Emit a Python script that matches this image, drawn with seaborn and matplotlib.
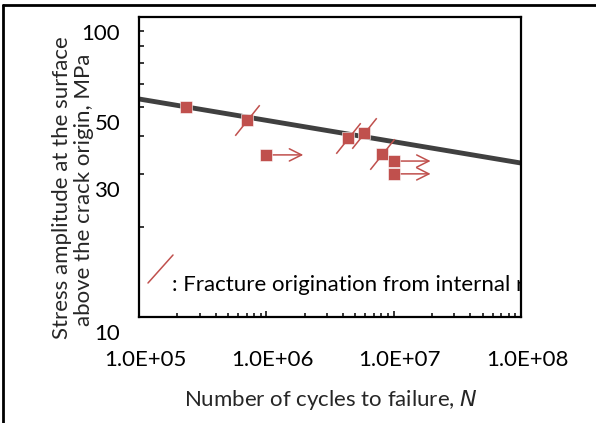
import matplotlib
matplotlib.use("Agg")
import numpy as np
import pandas as pd
import matplotlib.pyplot as plt
import seaborn as sns
from matplotlib.path import Path
from matplotlib.lines import Line2D
from matplotlib.transforms import ScaledTranslation
from matplotlib.ticker import FixedLocator, FixedFormatter, LogLocator, NullFormatter

# ---- data ----
N_fail = [2.35e5, 7.1e5, 4.35e6, 5.9e6, 8.1e6]
S_fail = [50.1, 45.3, 39.5, 41.1, 34.9]
internal_origin = [False, True, True, True, True]
N_runout = [1.0e6, 1.0e7, 1.0e7]
S_runout = [34.7, 33.1, 30.0]
fit_N = [1.0e5, 1.0e8]
fit_S = [53.3, 32.6]
x_ticks = [1e5, 1e6, 1e7, 1e8]
x_tick_labels = ["1.0E+05", "1.0E+06", "1.0E+07", "1.0E+08"]
y_ticks = [10, 20, 30, 40, 50, 60, 70, 80, 90, 100]
y_tick_labels = ["10", "", "30", "", "50", "", "", "", "", "100"]
x_label = "Number of cycles to failure, "
y_label_1 = "Stress amplitude at the surface"
y_label_2 = "above the crack origin, MPa"
legend_text = ": Fracture origination from internal region"

RED = "#C0504D"
DARK = "#404040"

sns.set_style("ticks")
plt.rcParams["font.family"] = ["Lato", "DejaVu Sans"]

W, H, DPI = 596, 423, 100
fig = plt.figure(figsize=(W / DPI, H / DPI), dpi=DPI)
L, R, T, B = 139, 521, 17, 317
ax = fig.add_axes([L / W, 1 - B / H, (R - L) / W, (B - T) / H])
ax.set_xscale("log")
ax.set_yscale("log")
ax.set_xlim(1e5, 1e8)
ax.set_ylim(10, 100)

df_fit = pd.DataFrame({"N": fit_N, "S": fit_S})
df_fail = pd.DataFrame({"N": N_fail, "S": S_fail, "internal": internal_origin})
df_run = pd.DataFrame({"N": N_runout, "S": S_runout})

sns.lineplot(data=df_fit, x="N", y="S", ax=ax, color=DARK, linewidth=3.5, zorder=2)

# run-out arrows
for n, s in zip(N_runout, S_runout):
    ax.annotate("", xy=(n * 1.95, s), xytext=(n, s),
                arrowprops=dict(arrowstyle="->", color=RED, lw=1.1,
                                mutation_scale=22, shrinkA=0, shrinkB=0),
                zorder=3)

sns.scatterplot(data=df_fail, x="N", y="S", ax=ax, marker="s", s=80, color=RED,
                edgecolor="white", linewidth=0.4, zorder=4)
sns.scatterplot(data=df_run, x="N", y="S", ax=ax, marker="s", s=80, color=RED,
                edgecolor="white", linewidth=0.4, zorder=4)

slash = Path([(-0.8, -1.0), (0.8, 1.0)], [Path.MOVETO, Path.LINETO])
df_int = df_fail[df_fail["internal"]]
ax.plot(df_int["N"], df_int["S"], linestyle="none", marker=slash, markersize=22,
        markeredgecolor=RED, markerfacecolor="none", markeredgewidth=1.1, zorder=5)

# legend-like annotation
ax.add_line(Line2D([(148 - L) / (R - L), (173 - L) / (R - L)],
                   [(B - 283) / (B - T), (B - 255) / (B - T)],
                   transform=ax.transAxes, color=RED, lw=1.1))
ax.text((172 - L) / (R - L), (B - 285) / (B - T), legend_text, transform=ax.transAxes,
        fontsize=16, va="center", ha="left", clip_on=True, color="black")

# axes styling
for sp in ax.spines.values():
    sp.set_linewidth(1.6)
    sp.set_color("black")
ax.xaxis.set_major_locator(FixedLocator(x_ticks))
ax.xaxis.set_major_formatter(FixedFormatter(x_tick_labels))
ax.xaxis.set_minor_locator(LogLocator(base=10, subs=np.arange(2, 10)))
ax.xaxis.set_minor_formatter(NullFormatter())
ax.yaxis.set_major_locator(FixedLocator(y_ticks))
ax.yaxis.set_major_formatter(FixedFormatter(y_tick_labels))
ax.yaxis.set_minor_locator(FixedLocator([]))
ax.tick_params(axis="both", which="both", direction="in", top=False, right=False,
               labelsize=16, colors="black", width=1.1)
ax.tick_params(axis="x", which="major", length=4.5, pad=24)
ax.tick_params(axis="x", which="minor", length=3)
ax.tick_params(axis="y", which="major", length=3.6, pad=13.5)
ax.set_xlabel("")
ax.set_ylabel("")

# small offsets mimicking the reference label placement
for lab in ax.get_yticklabels():
    lab.set_transform(lab.get_transform() + ScaledTranslation(0, -15 / DPI, fig.dpi_scale_trans))
for lab in ax.get_xticklabels():
    lab.set_transform(lab.get_transform() + ScaledTranslation(6 / DPI, 0, fig.dpi_scale_trans))

# axis titles
fig.text(331 / W, 1 - 400 / H, x_label + r"$N$", ha="center", va="center", fontsize=16)
fig.text(62 / W, 1 - 188 / H, y_label_1, rotation=90, ha="center", va="center", fontsize=16)
fig.text(84 / W, 1 - 190 / H, y_label_2, rotation=90, ha="center", va="center", fontsize=16)

# outer frame lines (top and left)
fig.add_artist(Line2D([3 / W, 1], [1 - 5 / H, 1 - 5 / H], transform=fig.transFigure,
                      color="black", lw=2))
fig.add_artist(Line2D([3 / W, 3 / W], [0, 1 - 5 / H], transform=fig.transFigure,
                      color="black", lw=2))

fig.savefig("out.png", dpi=DPI)
